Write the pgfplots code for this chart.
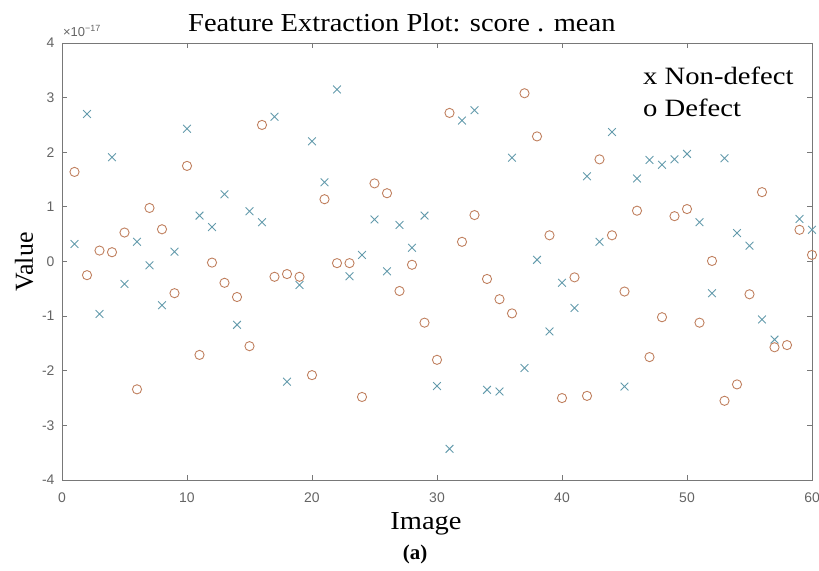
\documentclass[border=0pt]{standalone}
\usepackage{fontspec}
\setmainfont{Liberation Serif}
\newfontfamily\widefont[FakeStretch=1.1]{Liberation Serif}
\newfontfamily\legfont[FakeStretch=1.15]{Liberation Serif}
\newfontfamily\ticksf{Liberation Sans}
\usepackage{pgfplots}
\pgfplotsset{compat=1.18}
\definecolor{ndcol}{RGB}{100,155,172}
\definecolor{dcol}{RGB}{192,128,95}
\definecolor{axgray}{RGB}{120,120,120}
\definecolor{tickgray}{RGB}{100,100,100}
\begin{document}
\begin{tikzpicture}
\path[use as bounding box] (-62bp,-91bp) rectangle (757bp,480bp);
\begin{axis}[
  at={(0,0)}, anchor=south west,
  width=750bp, height=437bp, scale only axis,
  xmin=0, xmax=60, ymin=-4, ymax=4,
  xtick={0,10,...,60}, ytick={-4,-3,...,4},
  tick align=inside, tick pos=both,
  major tick length=5bp,
  axis line style={axgray, line width=1pt},
  tick style={axgray, line width=0.8pt},
  tick label style={font=\ticksf\fontsize{14}{15}\selectfont, text=tickgray},
  /pgf/number format/assume math mode=true,
  xticklabel style={yshift=-9bp},
  yticklabel style={xshift=-4bp},
  scaled y ticks=false,
  clip=false,
]
\addplot[only marks, mark=x, mark size=5.5bp, ndcol, line width=0.9pt] coordinates {
(1,0.32) (2,2.70) (3,-0.96) (4,1.91) (5,-0.41) (6,0.36) (7,-0.07) (8,-0.80) (9,0.18) (10,2.43)
(11,0.84) (12,0.63) (13,1.23) (14,-1.16) (15,0.92) (16,0.72) (17,2.65) (18,-2.20) (19,-0.43) (20,2.20)
(21,1.45) (22,3.15) (23,-0.27) (24,0.12) (25,0.77) (26,-0.18) (27,0.67) (28,0.25) (29,0.84) (30,-2.28)
(31,-3.43) (32,2.58) (33,2.77) (34,-2.35) (35,-2.38) (36,1.90) (37,-1.95) (38,0.03) (39,-1.28) (40,-0.39)
(41,-0.85) (42,1.56) (43,0.36) (44,2.37) (45,-2.29) (46,1.52) (47,1.86) (48,1.77) (49,1.87) (50,1.97)
(51,0.72) (52,-0.58) (53,1.89) (54,0.52) (55,0.29) (56,-1.06) (57,-1.43) (59,0.78) (60,0.58)
};
\addplot[only marks, mark=o, mark size=4.6bp, dcol, line width=0.9pt] coordinates {
(1,1.64) (2,-0.25) (3,0.20) (4,0.17) (5,0.53) (6,-2.34) (7,0.98) (8,0.59) (9,-0.58) (10,1.75)
(11,-1.71) (12,-0.02) (13,-0.39) (14,-0.65) (15,-1.55) (16,2.50) (17,-0.28) (18,-0.23) (19,-0.28) (20,-2.08)
(21,1.14) (22,-0.03) (23,-0.03) (24,-2.48) (25,1.43) (26,1.25) (27,-0.54) (28,-0.06) (29,-1.12) (30,-1.80)
(31,2.72) (32,0.36) (33,0.85) (34,-0.32) (35,-0.69) (36,-0.95) (37,3.08) (38,2.29) (39,0.48) (40,-2.50)
(41,-0.29) (42,-2.46) (43,1.87) (44,0.48) (45,-0.55) (46,0.93) (47,-1.75) (48,-1.02) (49,0.83) (50,0.96)
(51,-1.12) (52,0.01) (53,-2.55) (54,-2.25) (55,-0.60) (56,1.27) (57,-1.57) (58,-1.53) (59,0.58) (60,0.12)
};
% title
\node[anchor=base west, inner sep=0pt, font=\widefont\fontsize{26}{30}\selectfont]
  at (axis description cs:0.168,1.0259) {Feature Extraction Plot: score . mean};
% exponent
\node[anchor=base west, inner sep=0pt, font=\ticksf\fontsize{13}{14}\selectfont, text=tickgray]
  at (axis description cs:0.0013,1.0149) {×10\raisebox{5bp}{\fontsize{9}{10}\selectfont −17}};
% legend text
\node[anchor=base west, inner sep=0pt, font=\legfont\fontsize{25}{30}\selectfont]
  at (axis description cs:0.7747,0.9039) {x Non-defect};
\node[anchor=base west, inner sep=0pt, font=\legfont\fontsize{25}{30}\selectfont]
  at (axis description cs:0.7747,0.8307) {o Defect};
% axis labels
\node[anchor=base, inner sep=0pt, font=\widefont\fontsize{26}{30}\selectfont]
  at (axis description cs:0.4853,-0.1144) {Image};
\node[anchor=base, inner sep=0pt, rotate=90, font=\fontsize{26}{30}\selectfont]
  at (axis description cs:-0.0387,0.4989) {Value};
\node[anchor=base, inner sep=0pt, font=\bfseries\fontsize{21}{24}\selectfont]
  at (axis description cs:0.4707,-0.183) {(a)};
\end{axis}
\end{tikzpicture}
\end{document}
